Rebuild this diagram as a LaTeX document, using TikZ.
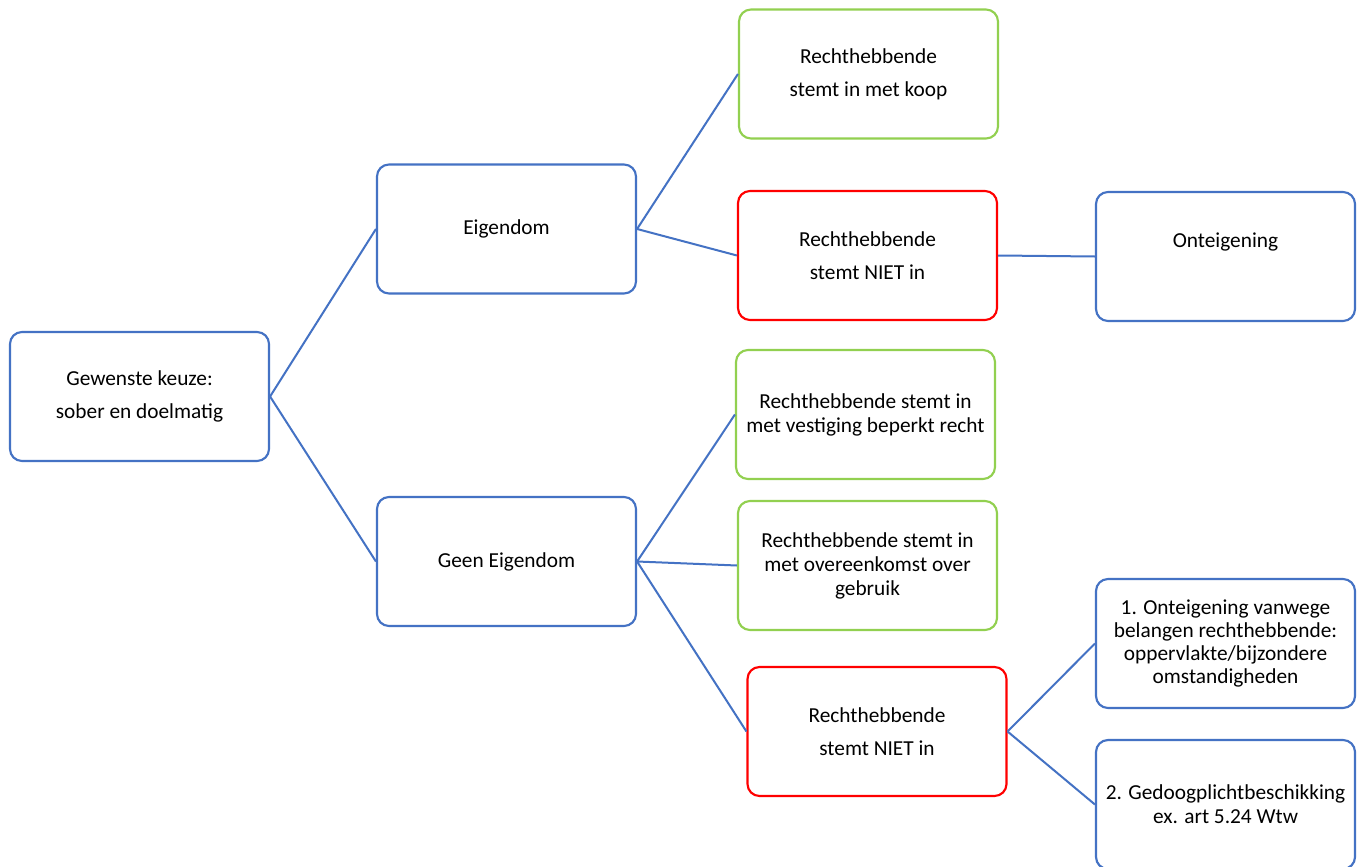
\documentclass[tikz,border=0pt]{standalone}
\usepackage{fontspec}
\setmainfont{Carlito}
\definecolor{sblue}{HTML}{4472C4}
\definecolor{sgreen}{HTML}{92D050}
\definecolor{sred}{HTML}{FF0000}
\begin{document}
\begin{tikzpicture}[x=0.75pt,y=-0.75pt,
  box/.style={draw=sblue,line width=1.6pt,rounded corners=9pt,minimum width=194.25pt,minimum height=96.75pt,inner sep=0pt,align=center,font=\fontsize{16}{18}\selectfont},
  okbox/.style={box,draw=sgreen},
  nobox/.style={box,draw=sred},
  link/.style={draw=sblue,line width=1.5pt}]
\clip (0,0) rectangle (1363,867);
\fill[white] (0,0) rectangle (1363,867);
\node[box] (root) at (139.5,396.5) {Gewenste keuze:\\[6.75pt]sober en doelmatig};
\node[box] (eig) at (506.5,229) {Eigendom};
\node[box] (geen) at (506.5,561.5) {Geen Eigendom};
\node[okbox] (koop) at (868.5,74) {Rechthebbende\\[6.75pt]stemt in met koop};
\node[nobox] (niet1) at (867.5,255.5) {Rechthebbende\\[6.75pt]stemt NIET in};
\node[box] (ont) at (1225.5,256.5) {Onteigening\\[6.75pt]\mbox{}};
\node[okbox] (vest) at (865.5,414.5) {Rechthebbende stemt in\\met vestiging beperkt recht};
\node[okbox] (over) at (867.5,565.5) {Rechthebbende stemt in\\met overeenkomst over\\gebruik};
\node[nobox] (niet2) at (877,731.5) {Rechthebbende\\[6.75pt]stemt NIET in};
\node[box,font=\fontsize{16}{17.25}\selectfont] (opt1) at (1225.5,643.5) {1. Onteigening vanwege\\belangen rechthebbende:\\oppervlakte/bijzondere\\omstandigheden};
\node[box] (opt2) at (1225.5,804.5) {2. Gedoogplichtbeschikking\\ex. art 5.24 Wtw};
\draw[link] (root.east) -- (eig.west);
\draw[link] (root.east) -- (geen.west);
\draw[link] (eig.east) -- (koop.west);
\draw[link] (eig.east) -- (niet1.west);
\draw[link] (niet1.east) -- (ont.west);
\draw[link] (geen.east) -- (vest.west);
\draw[link] (geen.east) -- (over.west);
\draw[link] (geen.east) -- (niet2.west);
\draw[link] (niet2.east) -- (opt1.west);
\draw[link] (niet2.east) -- (opt2.west);
\end{tikzpicture}
\end{document}
